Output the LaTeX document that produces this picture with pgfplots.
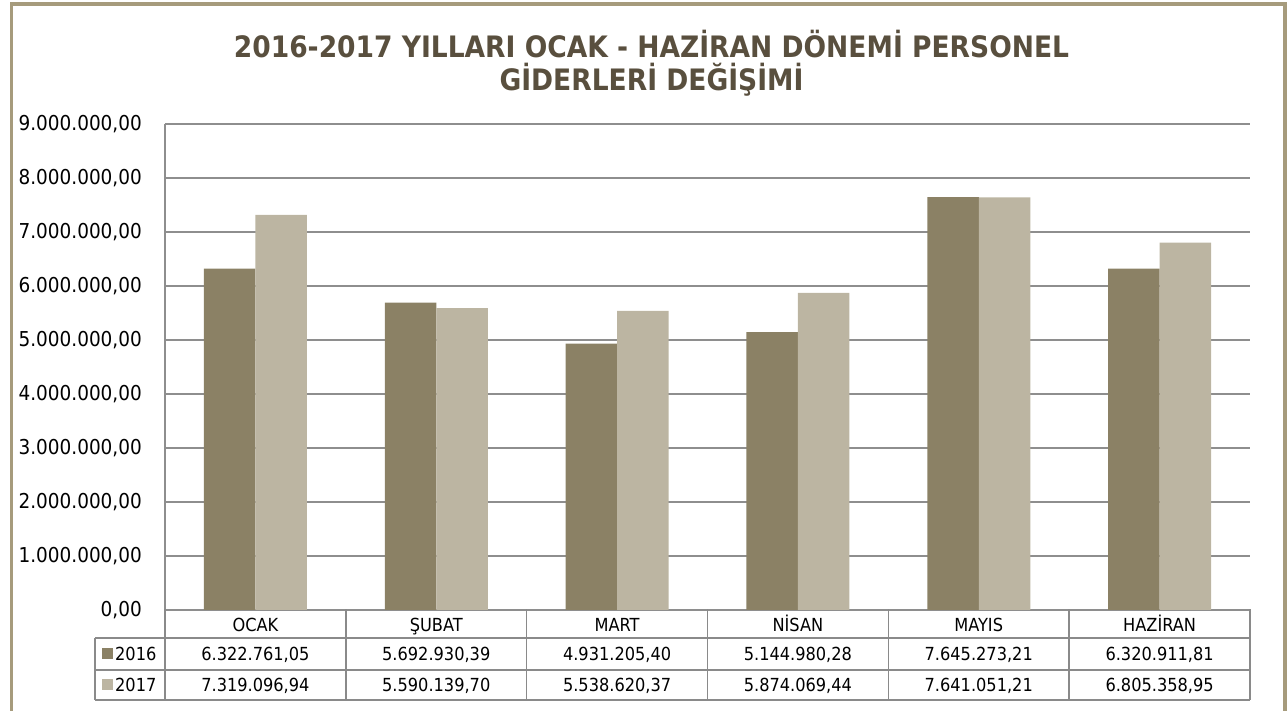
\documentclass[border=0pt]{standalone}
\usepackage{fontspec}
\setmainfont{DejaVu Sans Condensed}[BoldFont={DejaVu Sans Condensed Bold}]
\usepackage{pgfplots}
\pgfplotsset{compat=1.18}
\usepackage{pgfplotstable}

\definecolor{framec}{HTML}{A69B7C}
\definecolor{titlec}{HTML}{594F3E}
\definecolor{c2016}{HTML}{8B8165}
\definecolor{c2017}{HTML}{BCB5A2}
\definecolor{gridc}{HTML}{8E8E8E}
\definecolor{tblc}{HTML}{8A8A8A}

% personel giderleri, 2016 ve 2017
\pgfplotstableread{
idx a b
0 6322761.05 7319096.94
1 5692930.39 5590139.70
2 4931205.40 5538620.37
3 5144980.28 5874069.44
4 7645273.21 7641051.21
5 6320911.81 6805358.95
}\gider

\begin{document}
\begin{tikzpicture}[x=1pt,y=1pt]
\useasboundingbox (0,0) rectangle (1287,711);
% cerceve
\draw[framec, line width=3.5pt] (11.7,0) -- (11.7,707) -- (1285,707) -- (1285,0);

\node[font=\bfseries\fontsize{29.5}{33}\selectfont, text=titlec, anchor=base] at (651.5,653)
  {2016-2017 YILLARI OCAK - HAZİRAN DÖNEMİ PERSONEL};
\node[font=\bfseries\fontsize{29.5}{33}\selectfont, text=titlec, anchor=base] at (651.5,620)
  {GİDERLERİ DEĞİŞİMİ};

\begin{axis}[
    at={(165pt,101pt)}, anchor=south west,
    scale only axis, width=1085pt, height=486pt,
    xmin=-0.5, xmax=5.5, ymin=0, ymax=9000000,
    ybar=0pt, bar width=51.5pt,
    axis x line*=bottom, axis y line*=left,
    axis line style={draw=gridc, line width=2pt},
    xtick=\empty,
    scaled y ticks=false,
    ytick={0,1000000,2000000,3000000,4000000,5000000,6000000,7000000,8000000,9000000},
    yticklabels={{0,00},{1.000.000,00},{2.000.000,00},{3.000.000,00},{4.000.000,00},
      {5.000.000,00},{6.000.000,00},{7.000.000,00},{8.000.000,00},{9.000.000,00}},
    ymajorgrids, grid style={draw=gridc, line width=2pt},
    major tick length=0pt,
    yticklabel style={font=\fontsize{20.5}{24}\selectfont, inner sep=0pt, xshift=-23pt},
    clip=false,
]
\addplot[fill=c2016, draw=none] table[x=idx, y=a] {\gider};
\addplot[fill=c2017, draw=none] table[x=idx, y=b] {\gider};
\end{axis}

% veri tablosu
\begin{scope}[tblc, line width=1.5pt]
\foreach \k in {0,...,6} \draw ({165+\k*180.833},101.5) -- ({165+\k*180.833},11);
\draw (95,73) -- (1250,73);
\draw (95,41) -- (1250,41);
\draw (95,11) -- (1250,11);
\draw (95,73) -- (95,11);
\end{scope}
\begin{scope}[font=\fontsize{18}{21}\selectfont, every node/.style={anchor=base, inner sep=0pt}]
\foreach \m [count=\i from 0] in {OCAK,ŞUBAT,MART,NİSAN,MAYIS,HAZİRAN}
  \node at ({165+(\i+0.5)*180.833},79.5) {\m};
\foreach \v [count=\i from 0] in {6.322.761{,}05,5.692.930{,}39,4.931.205{,}40,5.144.980{,}28,7.645.273{,}21,6.320.911{,}81}
  \node at ({165+(\i+0.5)*180.833},50.5) {\v};
\foreach \v [count=\i from 0] in {7.319.096{,}94,5.590.139{,}70,5.538.620{,}37,5.874.069{,}44,7.641.051{,}21,6.805.358{,}95}
  \node at ({165+(\i+0.5)*180.833},19.5) {\v};
\fill[c2016] (102,52) rectangle (112.5,62.5);
\fill[c2017] (102,21) rectangle (112.5,31.5);
\node[anchor=base west] at (115,50.5) {2016};
\node[anchor=base west] at (115,19.5) {2017};
\end{scope}
\end{tikzpicture}
\end{document}
